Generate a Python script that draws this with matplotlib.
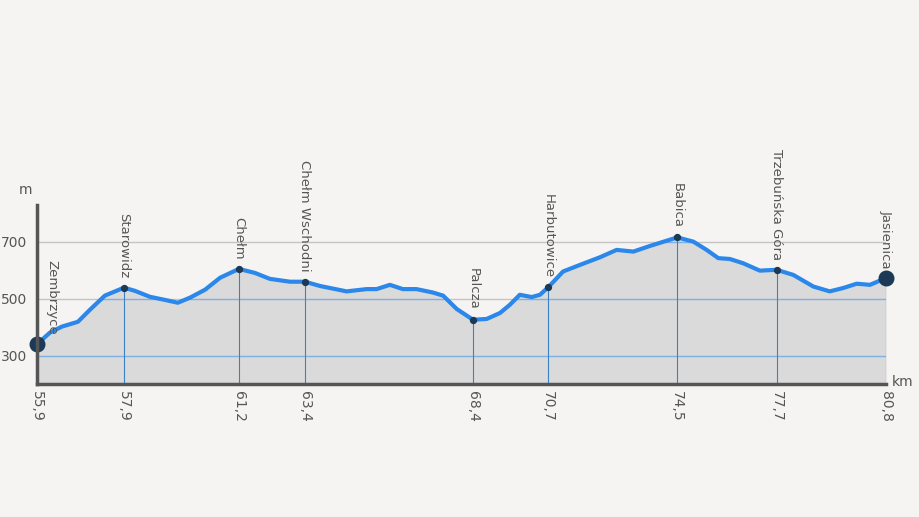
"""
elevation profile: Zembrzyce - Jasienica.
"""

import matplotlib
matplotlib.use('Agg')
import matplotlib.pyplot as plt

# profile (km, m)
DIST = [55.90, 56.28, 56.63, 57.10, 57.45, 57.89, 58.45, 58.77, 59.21, 59.65, 60.03, 60.39,
        60.83, 61.27, 61.82, 62.29, 62.73, 63.32, 63.76, 64.20, 64.98, 65.57, 65.86, 66.25,
        66.63, 67.03, 67.51, 67.81, 68.21, 68.69, 69.09, 69.48, 69.77, 70.06, 70.41, 70.65,
        70.89, 71.33, 71.82, 72.41, 72.90, 73.39, 73.88, 74.68, 75.15, 75.54, 75.88, 76.22,
        76.61, 77.10, 77.59, 78.08, 78.67, 79.15, 79.55, 79.94, 80.33, 80.80]
ELEV = [340, 381, 402, 419, 461, 511, 539, 528, 507, 496, 486, 504,
        532, 574, 605, 591, 570, 560, 560, 545, 526, 534, 534, 549,
        534, 534, 522, 511, 464, 426, 429, 450, 479, 514, 506, 514,
        540, 596, 619, 646, 672, 666, 686, 716, 701, 672, 643, 640,
        625, 599, 602, 584, 543, 526, 538, 553, 549, 573]

# named points
PLACES = ['Zembrzyce', 'Starowidz', 'Chełm', 'Chełm Wschodni', 'Palcza', 'Harbutowice',
          'Babica', 'Trzebuńska Góra', 'Jasienica']
PLACE_KM = [55.90, 58.45, 61.82, 63.76, 68.69, 70.89, 74.68, 77.59, 80.80]
PLACE_ELEV = [340, 539, 605, 560, 426, 540, 716, 602, 573]
PLACE_TICKS = ['55,9', '57,9', '61,2', '63,4', '68,4', '70,7', '74,5', '77,7', '80,8']

Y_TICKS = [300, 500, 700]

BG = '#f5f4f2'
TXT = '#555555'
LINE = '#2b88ea'
DOT = '#1c3a56'

fig = plt.figure(figsize=(9.19, 5.17), dpi=100, facecolor=BG)
ax = fig.add_axes([37 / 919, 1 - 384 / 517, (886 - 37) / 919, (384 - 205) / 517])
ax.set_facecolor(BG)
ax.set_xlim(DIST[0], DIST[-1])
ax.set_ylim(200, 830)

# grid lines, gray outside the profile, blue inside it
for y in Y_TICKS:
    ax.axhline(y, color='#c4c4c4', lw=1, zorder=1)
fill = ax.fill_between(DIST, 200, ELEV, color='#dadada', lw=0, zorder=2)
clip = fill.get_paths()[0]
for y in Y_TICKS:
    gl = ax.axhline(y, color='#7fb0e0', lw=1, zorder=3)
    gl.set_clip_path(clip, transform=ax.transData)

# verticals at places
ax.vlines(PLACE_KM, 200, PLACE_ELEV, color='#3b82c4', lw=0.8, zorder=3)

ax.plot(DIST, ELEV, color=LINE, lw=3, zorder=4, solid_capstyle='round',
        solid_joinstyle='round', clip_on=False)

ax.scatter(PLACE_KM[1:-1], PLACE_ELEV[1:-1], s=18, color=DOT, zorder=5, clip_on=False)
ax.scatter([PLACE_KM[0], PLACE_KM[-1]], [PLACE_ELEV[0], PLACE_ELEV[-1]], s=110, color=DOT,
           zorder=6, clip_on=False)

for i, (name, km, h) in enumerate(zip(PLACES, PLACE_KM, PLACE_ELEV)):
    dx = 11 if i == 0 else 0
    ax.annotate(name, (km, h), xytext=(dx, 7), textcoords='offset points', rotation=-90,
                ha='center', va='bottom', fontsize=9.5, color=TXT, zorder=7)

ax.set_xticks(PLACE_KM)
ax.set_xticklabels(PLACE_TICKS, rotation=-90, fontsize=10, color=TXT)
ax.set_yticks(Y_TICKS)
ax.set_yticklabels([str(v) for v in Y_TICKS], fontsize=10, color=TXT)
ax.tick_params(axis='x', length=0, pad=5)
ax.tick_params(axis='y', length=0, pad=7)

for s in ['top', 'right']:
    ax.spines[s].set_visible(False)
for s in ['left', 'bottom']:
    ax.spines[s].set_color('#555555')
    ax.spines[s].set_linewidth(2.5)
    ax.spines[s].set_zorder(8)

fig.text(25 / 919, 1 - 190 / 517, 'm', fontsize=10, color=TXT, ha='center', va='center')
fig.text(903 / 919, 1 - 382 / 517, 'km', fontsize=10, color=TXT, ha='center', va='center')

fig.savefig('out.png', dpi=100, facecolor=BG)
